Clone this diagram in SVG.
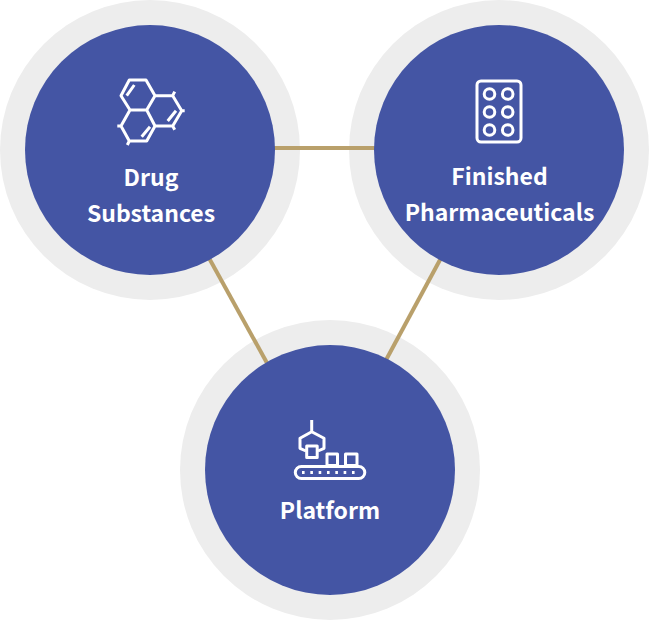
<svg xmlns="http://www.w3.org/2000/svg" width="649" height="620" viewBox="0 0 649 620">
<style>
.halo{fill:#ededed}
.disc{fill:#4455a4}
.link{stroke:#b9a06b;stroke-width:4;fill:none}
.icon{stroke:#fff;stroke-width:3;fill:none;stroke-linejoin:round}
.label{fill:#fff;font-family:"Noto Sans CJK KR","Noto Sans",sans-serif;font-size:23px;font-weight:700;text-anchor:middle}
</style>
<rect width="649" height="620" fill="#fff"/>
<g id="halos">
<circle class="halo" cx="150" cy="150" r="150"/>
<circle class="halo" cx="499" cy="150" r="150"/>
<circle class="halo" cx="330" cy="470" r="150"/>
</g>
<g id="connectors">
<line class="link" x1="270" y1="148" x2="380" y2="148"/>
<line class="link" x1="209" y1="258" x2="267" y2="363"/>
<line class="link" x1="441" y1="258" x2="386" y2="360"/>
</g>
<g id="drug-substances">
<circle class="disc" cx="150" cy="150" r="125"/>
<path class="icon" d="M129.3 80H146L155 95.7L146.7 110H130L121 95.7ZM155 95.700H172.700L181.700 110.700L172.700 126H155L146.700 110M130 110L121 126L129.300 141H146.700L155 126M172.700 95.700L174.700 91.700M181.700 110.700H184.700M172.700 126L174.700 129.700M129.300 141L127.300 145M121 126H117.300M126.700 95.700L134.300 85M167.700 121L176 110.700M141.700 136.700L150 126.700"/>
<text class="label" x="151" y="186">Drug</text>
<text class="label" x="151" y="222">Substances</text>
</g>
<g id="finished-pharmaceuticals">
<circle class="disc" cx="499" cy="150" r="125"/>
<g class="icon">
<rect x="477" y="81" width="44" height="61" rx="4"/>
<circle cx="489.500" cy="94" r="5.300"/><circle cx="507.700" cy="94" r="5.300"/>
<circle cx="489.500" cy="112" r="5.300"/><circle cx="507.700" cy="112" r="5.300"/>
<circle cx="489.500" cy="130" r="5.300"/><circle cx="507.700" cy="130" r="5.300"/>
</g>
<text class="label" x="499.500" y="185">Finished</text>
<text class="label" x="499.500" y="221">Pharmaceuticals</text>
</g>
<g id="platform">
<circle class="disc" cx="330" cy="470" r="125"/>
<g class="icon">
<path d="M311.700 420V431.700L324 438.300V448.300L318 451M311.700 431.700L300 438.300V448.300L306 451"/>
<rect x="306.700" y="446" width="10.500" height="11.500"/>
<rect x="327" y="454" width="10.500" height="11.500"/>
<rect x="345.500" y="454" width="11.500" height="11.500"/>
<rect x="295.300" y="466.500" width="69.500" height="12" rx="6"/>
<line x1="302" y1="472.500" x2="358" y2="472.500" stroke-dasharray="2.600 5.730"/>
</g>
<text class="label" x="330" y="519">Platform</text>
</g>
</svg>
